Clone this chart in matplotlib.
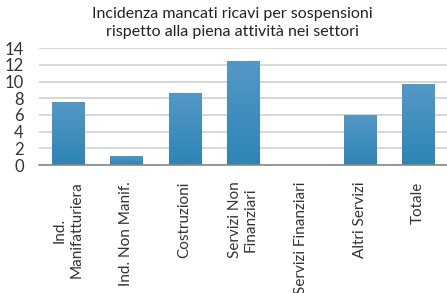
import matplotlib.pyplot as plt
import numpy as np
from matplotlib.colors import LinearSegmentedColormap

# dati del grafico
settori = ['Ind.\nManifatturiera', 'Ind. Non Manif.', 'Costruzioni',
           'Servizi Non\nFinanziari', 'Servizi Finanziari', 'Altri Servizi', 'Totale']
incidenza = [7.5, 1.1, 8.6, 12.5, 0.0, 6.0, 9.7]
yticks = [0, 2, 4, 6, 8, 10, 12, 14]

plt.rcParams['font.family'] = ['Lato', 'DejaVu Sans']

fig = plt.figure(figsize=(4.47, 2.93), dpi=100)
ax = fig.add_axes([39 / 447, 1 - 165 / 293, 1 - 39 / 447, (165 - 48.3) / 293])

x = np.arange(len(settori))
bars = ax.bar(x, incidenza, width=0.55, color='none', zorder=3)

# sfumatura verticale delle barre
cmap = LinearSegmentedColormap.from_list('blu', ['#2c85b6', '#5598c6'])
grad = np.linspace(0, 1, 256).reshape(-1, 1)
for b in bars:
    if b.get_height() <= 0:
        continue
    x0, w, h = b.get_x(), b.get_width(), b.get_height()
    im = ax.imshow(grad, cmap=cmap, origin='lower', aspect='auto',
                   extent=[x0, x0 + w, 0, h], zorder=3)
    im.set_clip_path(b)

ax.set_xlim(-0.5, len(settori) - 0.5)
ax.set_ylim(0, 14)
ax.set_yticks(yticks)
ax.set_yticklabels([str(v) for v in yticks], fontsize=12, color='#333333')
ax.set_xticks(x)
ax.set_xticklabels(settori, rotation=90, fontsize=11, color='#333333',
                   ha='center', va='top', multialignment='center')
ax.tick_params(axis='both', length=0)
ax.tick_params(axis='y', pad=11)
ax.tick_params(axis='x', pad=12)

ax.grid(axis='y', color='#d4d4d4', linewidth=1.3, zorder=0)
for s in ['top', 'right', 'left']:
    ax.spines[s].set_visible(False)
ax.spines['bottom'].set_color('#888888')
ax.spines['bottom'].set_linewidth(1.2)
ax.spines['bottom'].set_zorder(4)

fig.text(0.52, 0.975, 'Incidenza mancati ricavi per sospensioni\nrispetto alla piena attività nei settori',
         ha='center', va='top', fontsize=11.5, color='#222222', linespacing=1.3)

fig.savefig('out.png', dpi=100)
